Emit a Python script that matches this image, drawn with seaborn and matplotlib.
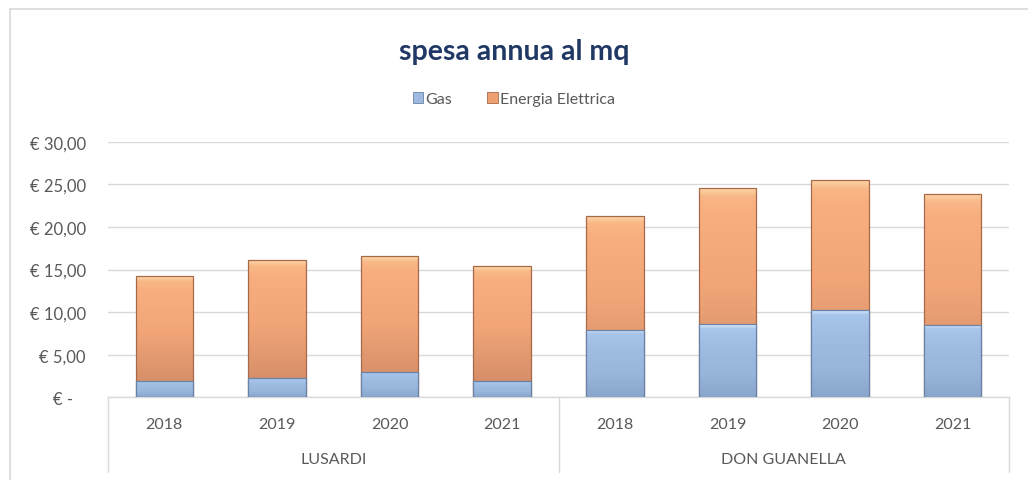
import matplotlib
matplotlib.use("Agg")
import matplotlib.pyplot as plt
import seaborn as sns
import numpy as np
import pandas as pd
from matplotlib.patches import Patch
from matplotlib.lines import Line2D
from matplotlib.colors import LinearSegmentedColormap
import matplotlib.transforms as mtransforms

# ---- data ----
groups = ["LUSARDI", "DON GUANELLA"]
years = ["2018", "2019", "2020", "2021"]
gas = [1.95, 2.23, 3.00, 1.87, 7.93, 8.55, 10.27, 8.51]
energia = [12.23, 13.83, 13.53, 13.49, 13.36, 16.02, 15.23, 15.36]
yticks = [0, 5, 10, 15, 20, 25, 30]

keys = [f"{g} {y}" for g in groups for y in years]
df = pd.DataFrame({"key": keys, "gas": gas, "energia": energia})
df["totale"] = df["gas"] + df["energia"]

sns.set_theme(style="white")
plt.rcParams["font.family"] = ["Lato", "DejaVu Sans"]

grey_txt = "#595959"
grid_c = "#D9D9D9"
blue = "#9DBBE2"
orange = "#EFA070"

fig = plt.figure(figsize=(10.28, 4.81), dpi=100)
ax = fig.add_axes([108 / 1028, 1 - 398.3 / 481, (1009 - 108) / 1028, (398.3 - 142.7) / 481])

sns.barplot(data=df, x="key", y="totale", color=orange, width=0.51, ax=ax,
            saturation=1, edgecolor="#A8694A", linewidth=0.9, zorder=3)
sns.barplot(data=df, x="key", y="gas", color=blue, width=0.51, ax=ax,
            saturation=1, edgecolor="#6A82A4", linewidth=0.9, zorder=4)

# gradient shading for the bevel look
n = len(keys)
cm_or = LinearSegmentedColormap.from_list("o", ["#FDD9A8", "#F8AE7E", "#F2A678", "#DB936C", "#C9835E"])
cm_bl = LinearSegmentedColormap.from_list("b", ["#DDF1FF", "#A9C6EC", "#9EBBE2", "#98B5DC", "#8AA6CC"])
for i, p in enumerate(ax.patches):
    x0, y0 = p.get_x(), p.get_y()
    w, h = p.get_width(), p.get_height()
    if h <= 0:
        continue
    cmap = cm_or if i < n else cm_bl
    if i < n:
        g = np.concatenate([np.linspace(0, 0.2, 12), np.linspace(0.2, 0.9, 244)]).reshape(-1, 1)
    else:
        g = np.concatenate([np.linspace(0, 0.3, 20), np.linspace(0.3, 1.0, 236)]).reshape(-1, 1)
    im = ax.imshow(g, cmap=cmap, vmin=0, vmax=1, aspect="auto",
                   extent=[x0, x0 + w, y0, y0 + h], origin="upper",
                   zorder=p.get_zorder(), interpolation="bilinear")
    im.set_clip_path(p)
    p.set_zorder(p.get_zorder() + 0.5)
    p.set_facecolor("none")

ax.set_xlim(-0.5, n - 0.5)
ax.set_ylim(0, 30)
ax.set_yticks(yticks)
ax.set_yticklabels([f"€ {v:,.2f}".replace(".", ",") if v else "€ -   " for v in yticks],
                   color=grey_txt, fontsize=12)
ax.set_xticks(range(n))
ax.set_xticklabels(years * len(groups), color=grey_txt, fontsize=11.5)
ax.tick_params(axis="x", length=0, pad=14)
ax.tick_params(axis="y", length=0, pad=16)
ax.set_xlabel("")
ax.set_ylabel("")
ax.yaxis.grid(True, color=grid_c, linewidth=1, zorder=0)
ax.set_axisbelow(True)
for s in ["top", "right", "left"]:
    ax.spines[s].set_visible(False)
ax.spines["bottom"].set_color(grid_c)
ax.spines["bottom"].set_linewidth(1)

# multi-level category axis
trans = mtransforms.blended_transform_factory(ax.transData, ax.transAxes)
ybot = (398.3 - 473) / (398.3 - 142.7)
for xv in [-0.5, 3.5, n - 0.5]:
    ax.plot([xv, xv], [0, ybot], transform=trans,
            color=grid_c, linewidth=1, clip_on=False)
ylab = (398.3 - 460) / (398.3 - 142.7)
for gi, g in enumerate(groups):
    ax.text(gi * 4 + 1.5, ylab, g, transform=trans, ha="center", va="center",
            color=grey_txt, fontsize=11.5)

# title and legend
fig.text(0.5, 1 - 52 / 481, "spesa annua al mq", ha="center", va="center",
         fontsize=20.5, fontweight="bold", color="#1F3864")
handles = [Patch(facecolor=blue, edgecolor="#6A82A4", linewidth=0.6, label="Gas"),
           Patch(facecolor=orange, edgecolor="#A8694A", linewidth=0.6, label="Energia Elettrica")]
fig.legend(handles=handles, loc="center", bbox_to_anchor=(0.5, 1 - 100 / 481), ncol=2,
           frameon=False, fontsize=11.5, handlelength=0.65, handleheight=0.65,
           handletextpad=0.15, columnspacing=2.2, labelcolor=grey_txt)

# outer chart border (top and left visible)
fig.add_artist(Line2D([9.5 / 1028, 1], [1 - 9.5 / 481, 1 - 9.5 / 481], color=grid_c, linewidth=1.2))
fig.add_artist(Line2D([9.5 / 1028, 9.5 / 1028], [0, 1 - 9.5 / 481], color=grid_c, linewidth=1.2))

fig.savefig("out.png", dpi=100)
